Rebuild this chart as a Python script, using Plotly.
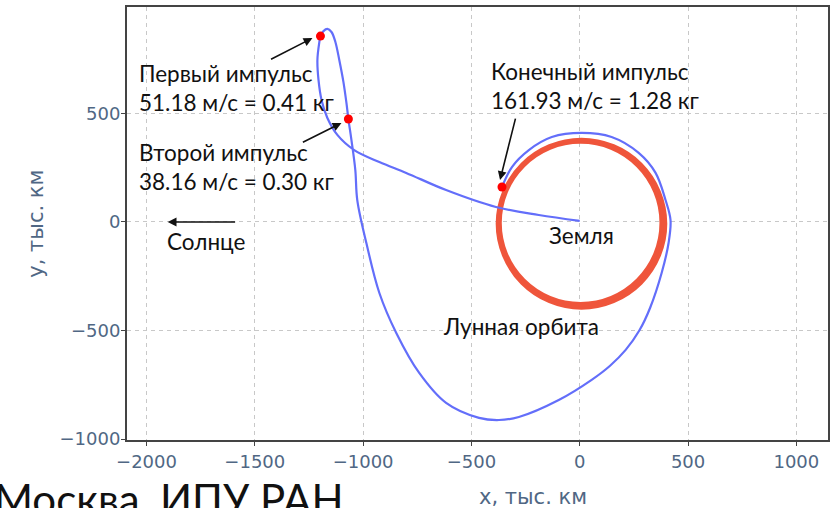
import plotly.graph_objects as go

# Spacecraft trajectory (thousand km)
traj_x = [0, -189, -387, -617, -801, -925, -1041, -1119, -1165, -1192, -1206, -1211, -1202, -1197,
          -1183, -1165, -1146, -1128, -1110, -1091, -1077, -1068, -1054, -1036, -1027, -985, -925,
          -847, -741, -617, -465, -373, -281, -97, 55, 140, 212, 275, 325, 378, 410, 419, 396, 350, 272, 147,
          9, -129, -235, -313, -359]
traj_y = [5, 32, 69, 147, 226, 276, 331, 401, 479, 562, 654, 746, 829, 856,
          879, 889, 875, 829, 746, 645, 548, 474, 378, 239, 101, -97, -327,
          -511, -695, -833, -902, -912, -898, -820, -727, -662, -589, -500, -395, -235, -97, 9, 101, 226, 318, 391,
          410, 391, 331, 253, 161]

# Lunar orbit loops (thousand km), loops separated by gaps
orbit_x = [376, 348, 267, 146, 4, -138, -259, -340, -368, -340, -259, -138, 4, 146, 267, 348, 376, None,
           386, 357, 275, 151, 6, -139, -263, -345, -374, -345, -263, -139, 6, 151, 275, 357, 386, None,
           396, 366, 282, 156, 8, -140, -266, -350, -380, -350, -266, -140, 8, 156, 282, 366, 396]
orbit_y = [-4, 138, 259, 340, 368, 340, 259, 138, -4, -146, -267, -348, -376, -348, -267, -146, -4, None,
           -6, 139, 263, 345, 374, 345, 263, 139, -6, -151, -275, -357, -386, -357, -275, -151, -6, None,
           -8, 140, 266, 350, 380, 350, 266, 140, -8, -156, -282, -366, -396, -366, -282, -156, -8]

# Impulse points
imp_x = [-1197, -1068, -359]
imp_y = [856, 474, 161]

x_ticks = [-2000, -1500, -1000, -500, 0, 500, 1000]
y_ticks = [-1000, -500, 0, 500]

fig = go.Figure()
fig.add_trace(go.Scatter(x=orbit_x, y=orbit_y, mode="lines", connectgaps=False,
                         line=dict(color="#EF553B", width=3.5, shape="spline"),
                         showlegend=False, hoverinfo="skip"))
fig.add_trace(go.Scatter(x=traj_x, y=traj_y, mode="lines", line=dict(color="#636efa", width=2.2, shape="spline"),
                         showlegend=False))
fig.add_trace(go.Scatter(x=imp_x, y=imp_y, mode="markers", marker=dict(color="#ff0000", size=9),
                         showlegend=False))

txt_font = dict(family="Lato", size=22.5, color="#111111")
ann = []
ann.append(dict(x=-2044, y=617, xref="x", yref="y", text="Первый импульс<br>51.18 м/с = 0.41 кг",
                showarrow=False, xanchor="left", yanchor="middle", align="left", font=txt_font))
ann.append(dict(x=-2044, y=253, xref="x", yref="y", text="Второй импульс<br>38.16 м/с = 0.30 кг",
                showarrow=False, xanchor="left", yanchor="middle", align="left", font=txt_font))
ann.append(dict(x=-419, y=626, xref="x", yref="y", text="Конечный импульс<br>161.93 м/с = 1.28 кг",
                showarrow=False, xanchor="left", yanchor="middle", align="left", font=txt_font))
ann.append(dict(x=-1915, y=-92, xref="x", yref="y", text="Солнце",
                showarrow=False, xanchor="left", yanchor="middle", font=txt_font))
ann.append(dict(x=-152, y=-60, xref="x", yref="y", text="Земля",
                showarrow=False, xanchor="left", yanchor="middle", font=txt_font))
ann.append(dict(x=-640, y=-483, xref="x", yref="y", text="Лунная орбита",
                showarrow=False, xanchor="left", yanchor="middle", font=txt_font))

arrows = [(-1432, 746, -1234, 847), (-1285, 364, -1100, 456), (-295, 483, -368, 193), (-1584, 0, -1902, 0)]
for ax_, ay_, x_, y_ in arrows:
    ann.append(dict(x=x_, y=y_, ax=ax_, ay=ay_, xref="x", yref="y", axref="x", ayref="y", text="",
                    showarrow=True, arrowhead=2, arrowsize=1.1, arrowwidth=1.6, arrowcolor="#111111"))

axis_font = dict(family="DejaVu Sans", size=21, color="#506784")
ann.append(dict(x=0.579, y=-0.132, xref="paper", yref="paper", text="x, тыс. км", showarrow=False,
                xanchor="center", yanchor="middle", font=axis_font))
ann.append(dict(x=-0.131, y=0.5, xref="paper", yref="paper", text="y, тыс. км", showarrow=False,
                textangle=-90, xanchor="center", yanchor="middle", font=axis_font))
ann.append(dict(x=-0.192, y=-0.074, xref="paper", yref="paper", text="Москва, ИПУ РАН", showarrow=False,
                xanchor="left", yanchor="top", font=dict(family="Lato", size=42, color="#111111")))

fig.update_layout(
    width=830, height=508,
    margin=dict(l=127, r=0, t=7, b=68),
    paper_bgcolor="white", plot_bgcolor="white",
    annotations=ann,
)
common = dict(showgrid=True, gridcolor="#c8c8c8", griddash="4px,4px", gridwidth=1,
              showline=True, linecolor="#444444", linewidth=2, mirror=True,
              ticks="outside", ticklen=4, tickcolor="#444444", zeroline=False,
              tickfont=dict(family="DejaVu Sans", size=18, color="#506784"))
fig.update_xaxes(range=[-2090, 1146], tickvals=x_ticks, **common)
fig.update_yaxes(range=[-1004, 990], tickvals=y_ticks, ticklabelstandoff=-3, **common)

fig.write_html("out.html")
